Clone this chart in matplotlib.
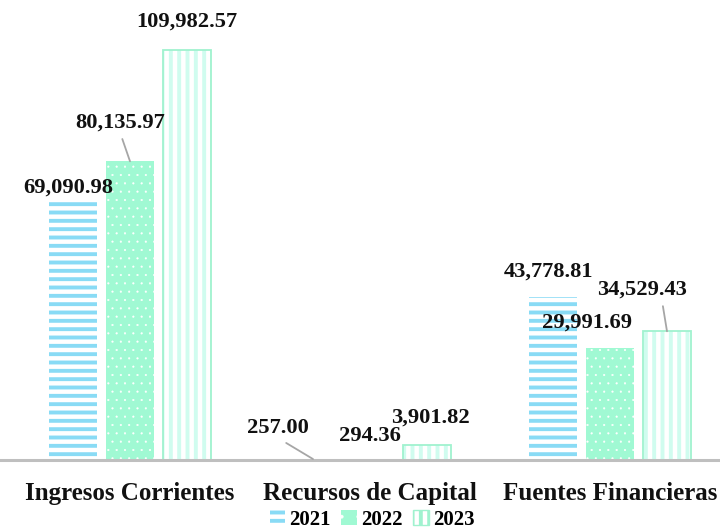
import numpy as np
import matplotlib
matplotlib.use("Agg")
import matplotlib.pyplot as plt
from matplotlib.patches import Patch

categories = ["Ingresos Corrientes", "Recursos de Capital", "Fuentes Financieras"]
years = ["2021", "2022", "2023"]
values2021 = [69090.98, 257.00, 43778.81]
values2022 = [80135.97, 294.36, 29991.69]
values2023 = [109982.57, 3901.82, 34529.43]

# label offsets in pixels from bar top (dx, dy), and leader line flag
offsets = {
    "2021": [(-5, 15, False), (-35, 31, True), (-4, 25, False)],
    "2022": [(-10, 39, True), (0, 23, False), (-23, 26, False)],
    "2023": [(0, 28, False), (3, 28, False), (-25, 42, True)],
}
relpos = {("2022", 0): (0.5, 0), ("2021", 1): (0.5, 0), ("2023", 2): (0.72, 0)}

blue = "#89DBF5"
green = "#A0F9D3"
pale = "#D0FCEF"
outline = "#A0F2CF"

plt.rcParams["font.family"] = ["Liberation Serif", "DejaVu Serif"]


def hatch_lw(artists, lw):
    # per-artist hatch width if this matplotlib has it, rcParams otherwise
    plt.rcParams["hatch.linewidth"] = lw
    for a in artists:
        if hasattr(a, "set_hatch_linewidth"):
            a.set_hatch_linewidth(lw)


fig = plt.figure(figsize=(7.2, 5.3), dpi=100)
ax = fig.add_axes([0, 70 / 530, 1, 460 / 530])

x = np.arange(len(categories))
step = 0.2375
width = 0.204

plt.rcParams["hatch.linewidth"] = 2.8
b1 = ax.bar(x - step, values2021, width, facecolor="white", edgecolor=blue,
            linewidth=0, hatch="--")
hatch_lw(b1, 2.8)
plt.rcParams["hatch.linewidth"] = 0.3
b2 = ax.bar(x, values2022, width, facecolor=green, edgecolor="white",
            linewidth=0, hatch="..")
hatch_lw(b2, 0.3)
plt.rcParams["hatch.linewidth"] = 2.8
b3 = ax.bar(x + step, values2023, width, facecolor="white", edgecolor=pale,
            linewidth=0, hatch="||")
hatch_lw(b3, 2.8)
ax.bar(x + step, values2023, width, fill=False, edgecolor=outline, linewidth=1.3)

for year, bars, vals in [("2021", b1, values2021), ("2022", b2, values2022),
                         ("2023", b3, values2023)]:
    for i, (bar, v) in enumerate(zip(bars, vals)):
        dx, dy, leader = offsets[year][i]
        cx = bar.get_x() + bar.get_width() / 2
        props = None
        if leader:
            props = dict(arrowstyle="-", color="#A6A6A6", lw=1.3,
                         relpos=relpos[(year, i)], shrinkA=3, shrinkB=0)
        ax.annotate(f"{v:,.2f}", xy=(cx, v), xytext=(dx, dy),
                    textcoords="offset pixels", ha="center", va="center",
                    fontsize=16.2, fontweight="bold", color="#111111",
                    arrowprops=props)

ax.set_xlim(-130 / 240, 590 / 240)
ax.set_ylim(0, 460 / 410 * 110000)
for s in ["top", "right", "left"]:
    ax.spines[s].set_visible(False)
ax.spines["bottom"].set_color("#BFBFBF")
ax.spines["bottom"].set_linewidth(2.2)
ax.set_yticks([])
ax.set_xticks(x)
ax.set_xticklabels(categories, fontsize=18, fontweight="bold", color="#111111")
ax.tick_params(axis="x", length=0, pad=16)

plt.rcParams["hatch.linewidth"] = 2.8
h1 = Patch(facecolor="white", edgecolor=blue, linewidth=0, hatch="--")
plt.rcParams["hatch.linewidth"] = 0.3
h2 = Patch(facecolor=green, edgecolor="white", linewidth=0, hatch=".")
plt.rcParams["hatch.linewidth"] = 2.8
h3 = Patch(facecolor="white", edgecolor=outline, linewidth=1, hatch="||")
leg = fig.legend([h1, h2, h3], years, loc="center", bbox_to_anchor=(372 / 720, 10 / 530),
                 ncol=3, frameon=False, prop={"weight": "bold", "size": 15},
                 handlelength=0.75, handleheight=0.75, handletextpad=0.2,
                 columnspacing=0.5, borderpad=0)
lp = leg.get_patches()
hatch_lw([lp[0]], 2.8)
hatch_lw([lp[1]], 0.3)
hatch_lw([lp[2]], 2.8)

fig.savefig("out.png", dpi=100)
